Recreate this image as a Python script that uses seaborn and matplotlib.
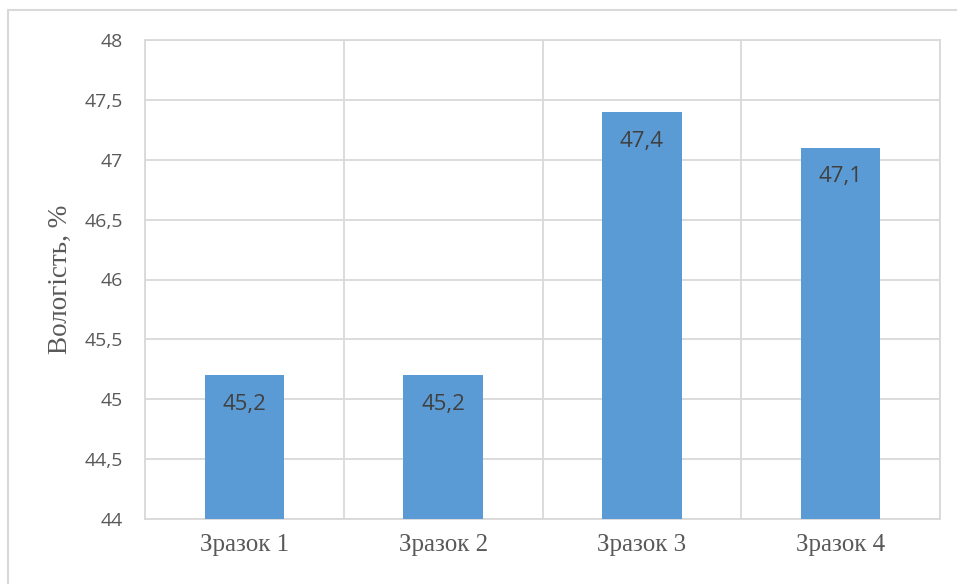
import matplotlib
matplotlib.use("Agg")
import matplotlib.pyplot as plt
import matplotlib.lines as mlines
import seaborn as sns
import numpy as np

categories = ["Зразок 1", "Зразок 2", "Зразок 3", "Зразок 4"]
values = [45.2, 45.2, 47.4, 47.1]
y_ticks = [44, 44.5, 45, 45.5, 46, 46.5, 47, 47.5, 48]
y_label = "Вологість, %"

def fmt(v):
    s = f"{v:g}"
    return s.replace(".", ",")

sns.set_theme(style="white")
plt.rcParams["font.family"] = ["Open Sans", "DejaVu Sans"]

grid_c = "#D9D9D9"
bar_c = "#5B9BD5"

fig = plt.figure(figsize=(9.57, 5.84), dpi=100)
ax = fig.add_axes([145 / 957, 65 / 584, 795 / 957, 479 / 584])

sns.barplot(x=categories, y=values, color=bar_c, width=0.4, saturation=1,
            linewidth=0, ax=ax, zorder=3)

ax.set_ylim(44, 48)
ax.set_xlim(-0.5, 3.5)
ax.set_yticks(y_ticks)
ax.set_yticklabels([fmt(t) for t in y_ticks], fontsize=14, color="#595959")
ax.set_xticks(range(len(categories)))
ax.set_xticklabels(categories, fontsize=18, color="#595959",
                   family="Liberation Serif")
ax.set_xticks(np.arange(-0.5, len(categories), 1.0), minor=True)
ax.tick_params(axis="y", length=0, pad=16)
ax.tick_params(axis="x", which="both", length=0, pad=11)

ax.yaxis.grid(True, color=grid_c, linewidth=1.3, zorder=0)
ax.xaxis.grid(True, which="minor", color=grid_c, linewidth=1.3, zorder=0)
ax.xaxis.grid(False, which="major")
ax.set_axisbelow(True)
for sp in ax.spines.values():
    sp.set_color(grid_c)
    sp.set_linewidth(1.3)

ax.set_xlabel("")
ax.set_ylabel(y_label, fontsize=19.5, color="#595959", family="Liberation Serif",
              labelpad=8)

for i, v in enumerate(values):
    ax.annotate(fmt(v), xy=(i, v), xytext=(0, -21), textcoords="offset points",
                ha="center", va="center", fontsize=16, color="#404040",
                zorder=4)

# outer chart frame
fig.add_artist(mlines.Line2D([8 / 957, 8 / 957], [0, 1 - 10 / 584],
                             transform=fig.transFigure, color=grid_c, lw=1.5))
fig.add_artist(mlines.Line2D([8 / 957, 1], [1 - 10 / 584, 1 - 10 / 584],
                             transform=fig.transFigure, color=grid_c, lw=1.5))

fig.savefig("out.png", dpi=100, facecolor="white")
